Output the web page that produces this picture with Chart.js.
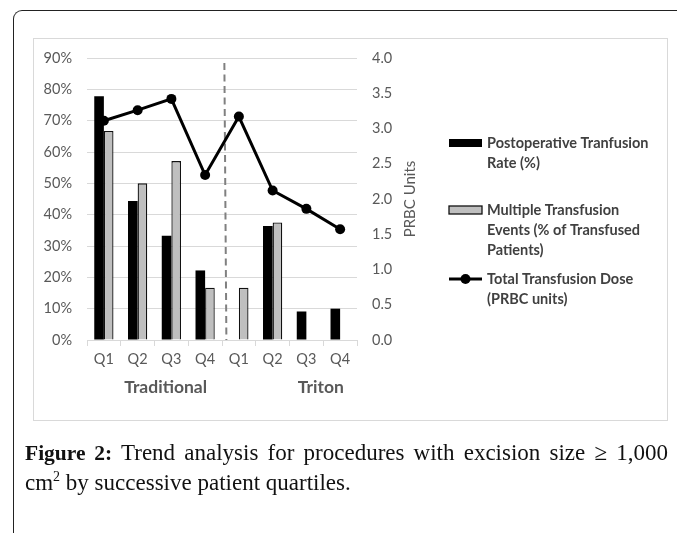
<!DOCTYPE html>
<html>
<head>
<meta charset="utf-8">
<script src="https://cdn.jsdelivr.net/npm/chart.js@4.4.1/dist/chart.umd.min.js"></script>
<style>
  html, body { margin: 0; padding: 0; background: #fff; width: 677px; height: 533px; overflow: hidden; }
  #frame { position: absolute; left: 13px; top: 10px; width: 700px; height: 560px;
    border-left: 1.5px solid #222; border-top: 1.5px solid #222; border-top-left-radius: 9px; }
  #box { position: absolute; left: 33px; top: 38px; width: 633px; height: 381px; border: 1.3px solid #d9d9d9; }
  #cv { position: absolute; left: 0; top: 0; }
  .cap { position: absolute; left: 25px; width: 643px; font-family: "Liberation Serif", "DejaVu Serif", serif;
    font-size: 23px; color: #111; white-space: nowrap; }
  #cap1 { top: 440px; text-align: justify; text-align-last: justify; white-space: normal; }
  #cap2 { top: 470px; }
  .cap b { font-weight: bold; font-size: 21.5px; }
</style>
</head>
<body>
<div id="frame"></div>
<div id="box"></div>
<canvas id="cv" width="677" height="533"></canvas>
<div class="cap" id="cap1"><b>Figure 2:</b> Trend analysis for procedures with excision size ≥ 1,000</div>
<div class="cap" id="cap2">cm<sup style="font-size:14px;line-height:0;">2</sup> by successive patient quartiles.</div>
<script>
const categories = ["Q1", "Q2", "Q3", "Q4", "Q1", "Q2", "Q3", "Q4"];
const groups = ["Traditional", "Triton"];
const transfusionRate = [77.8, 44.4, 33.3, 22.2, 0, 36.4, 9.1, 10.0];
const multipleEvents = [66.7, 50.0, 57.1, 16.7, 16.7, 37.5, 0, 0];
const totalDose = [3.11, 3.26, 3.42, 2.34, 3.17, 2.12, 1.86, 1.57];
const leftTicks = [0, 10, 20, 30, 40, 50, 60, 70, 80, 90];
const rightTicks = [0, 0.5, 1.0, 1.5, 2.0, 2.5, 3.0, 3.5, 4.0];
const legendLabels = [
  ["Postoperative Tranfusion", "Rate (%)"],
  ["Multiple Transfusion", "Events (% of Transfused", "Patients)"],
  ["Total Transfusion Dose", "(PRBC units)"]
];
const rightAxisTitle = "PRBC Units";

const FONT = "Lato, 'Open Sans', sans-serif";
const TICK = "#595959";

const extras = {
  id: "extras",
  beforeDatasetsDraw(chart) {
    const ctx = chart.ctx, xs = chart.scales.x, y1 = chart.scales.y1;
    const x = xs.getPixelForValue(3.6);
    ctx.save();
    ctx.strokeStyle = "#808080";
    ctx.lineWidth = 2;
    ctx.setLineDash([7, 4.5]);
    ctx.beginPath();
    ctx.moveTo(x - 1, y1.getPixelForValue(3.93));
    ctx.lineTo(x + 1, y1.getPixelForValue(0));
    ctx.stroke();
    ctx.restore();
  },
  afterDraw(chart) {
    const ctx = chart.ctx, xs = chart.scales.x, area = chart.chartArea;
    ctx.save();
    ctx.fillStyle = "#595959";
    ctx.font = "bold 17.5px " + FONT;
    ctx.textAlign = "center";
    ctx.textBaseline = "middle";
    ctx.fillText(groups[0], xs.getPixelForValue(1.83), 387);
    ctx.fillText(groups[1], xs.getPixelForValue(6.43), 387);
    ctx.save();
    ctx.translate(410, (area.top + area.bottom) / 2);
    ctx.rotate(-Math.PI / 2);
    ctx.font = "15px " + FONT;
    ctx.fillText(rightAxisTitle, 0, 0);
    ctx.restore();
    const sx = 449, sw = 33, tx = 487;
    const itemY = [143, 210, 279];
    const ds = chart.data.datasets;
    ctx.font = "bold 14.5px " + FONT;
    ctx.textAlign = "left";
    legendLabels.forEach((lines, i) => {
      const y = itemY[i];
      lines.forEach((t, j) => { ctx.fillStyle = "#404040"; ctx.fillText(t, tx, y + j * 20); });
      const d = ds[i];
      if (d.type === "line") {
        ctx.strokeStyle = d.borderColor; ctx.lineWidth = 3;
        ctx.beginPath(); ctx.moveTo(sx, y); ctx.lineTo(sx + sw, y); ctx.stroke();
        ctx.fillStyle = d.pointBackgroundColor;
        ctx.beginPath(); ctx.arc(sx + sw / 2, y, 5, 0, Math.PI * 2); ctx.fill();
      } else {
        ctx.fillStyle = d.backgroundColor;
        ctx.fillRect(sx, y - 4, sw, 8);
        if (d.borderWidth) { ctx.strokeStyle = d.borderColor; ctx.lineWidth = 1.3; ctx.strokeRect(sx, y - 4, sw, 8); }
      }
    });
    ctx.restore();
  }
};

new Chart(document.getElementById("cv"), {
  data: {
    labels: categories,
    datasets: [
      { type: "bar", label: legendLabels[0].join(" "), data: transfusionRate, yAxisID: "y",
        backgroundColor: "#000000", borderWidth: 0, order: 2,
        categoryPercentage: 0.57, barPercentage: 1.0 },
      { type: "bar", label: legendLabels[1].join(" "), data: multipleEvents, yAxisID: "y",
        backgroundColor: "#bfbfbf", borderColor: "#111111", borderWidth: 1.3, order: 2,
        categoryPercentage: 0.57, barPercentage: 1.0 },
      { type: "line", label: legendLabels[2].join(" "), data: totalDose, yAxisID: "y1",
        borderColor: "#000000", borderWidth: 3, pointRadius: 5, pointBackgroundColor: "#000000",
        pointBorderColor: "#000000", pointBorderWidth: 0, tension: 0, order: 0 }
    ]
  },
  options: {
    responsive: false,
    animation: false,
    devicePixelRatio: 1,
    layout: { padding: { left: 35, right: 280, top: 58, bottom: 143 } },
    plugins: { legend: { display: false }, tooltip: { enabled: false } },
    scales: {
      x: {
        type: "category",
        offset: true,
        grid: { offset: true, drawOnChartArea: false, drawTicks: true, tickLength: 6, color: "#d9d9d9", lineWidth: 1 },
        border: { display: true, color: "#d9d9d9", width: 1 },
        ticks: { color: TICK, font: { family: FONT, size: 14.5 }, padding: 5, maxRotation: 0 },
        afterFit(s) { s.height = 50; }
      },
      y: {
        position: "left",
        min: 0, max: 90,
        afterBuildTicks(s) { s.ticks = leftTicks.map(v => ({ value: v })); },
        grid: { color: "#d9d9d9", lineWidth: 1, drawTicks: false },
        border: { display: false },
        ticks: { color: TICK, font: { family: FONT, size: 14.5 }, padding: 15, callback: v => v + "%" },
        afterFit(s) { s.width = 52; }
      },
      y1: {
        position: "right",
        min: 0, max: 4,
        afterBuildTicks(s) { s.ticks = rightTicks.map(v => ({ value: v })); },
        grid: { drawOnChartArea: false, drawTicks: false },
        border: { display: false },
        ticks: { color: TICK, font: { family: FONT, size: 14.5 }, padding: 15, callback: v => Number(v).toFixed(1) },
        afterFit(s) { s.width = 40; }
      }
    }
  },
  plugins: [extras]
});
</script>
</body>
</html>
